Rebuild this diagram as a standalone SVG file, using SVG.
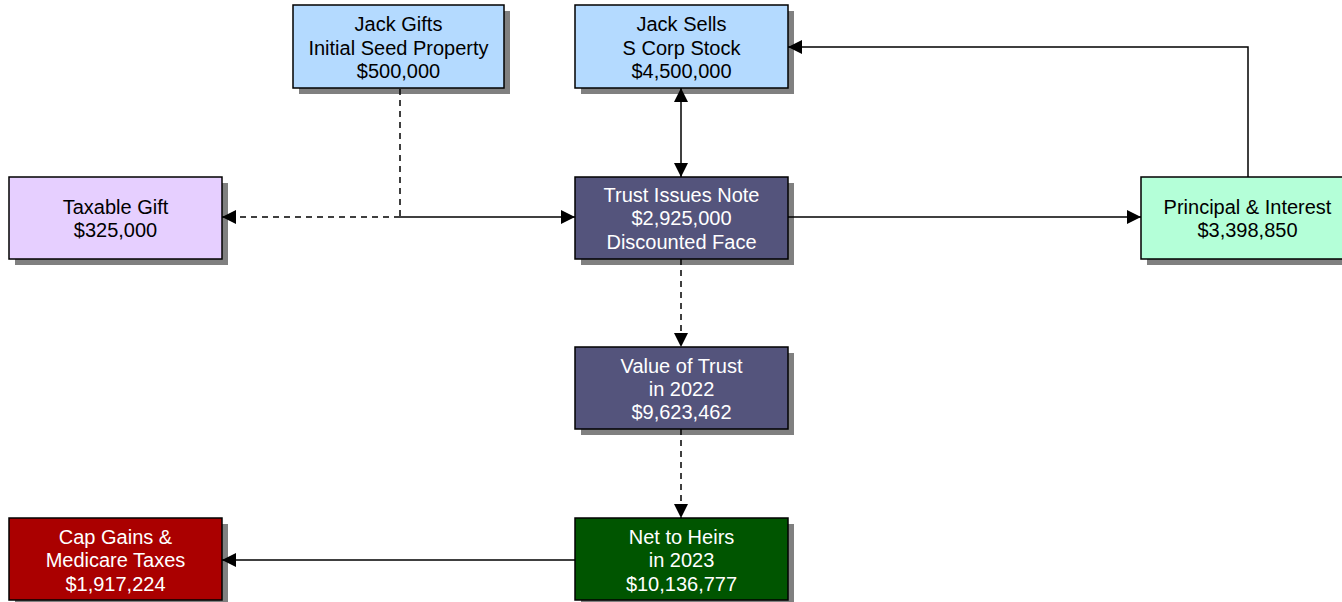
<svg xmlns="http://www.w3.org/2000/svg" width="1342" height="602" viewBox="0 0 1342 602">
<defs>
<style>
.box{stroke:#000;stroke-width:1.5}
.shadow{fill:#808080}
.t{font-family:"Liberation Sans",Arial,sans-serif;font-size:20px;text-anchor:middle}
.dk{fill:#000}
.lt{fill:#fff}
.ln{fill:none;stroke:#000;stroke-width:1.5}
.dash{stroke-dasharray:6,5}
</style>
<marker id="ah" viewBox="0 0 14 14" refX="14" refY="7" markerWidth="14" markerHeight="14" markerUnits="userSpaceOnUse" orient="auto-start-reverse">
<path d="M0,0 L14,7 L0,14 Z" fill="#000"/>
</marker>
</defs>
<rect width="1342" height="602" fill="#fff"/>
<g id="jack-gifts">
<rect class="shadow" x="299" y="11" width="211" height="83"/>
<rect class="box" x="293" y="5" width="211" height="83" fill="#b4daff"/>
<text class="t dk" x="398.5" y="30.5">Jack Gifts</text>
<text class="t dk" x="398.5" y="54.5">Initial Seed Property</text>
<text class="t dk" x="398.5" y="78">$500,000</text>
</g>
<g id="jack-sells">
<rect class="shadow" x="581" y="11" width="213" height="83"/>
<rect class="box" x="575" y="5" width="213" height="83" fill="#b4daff"/>
<text class="t dk" x="681.5" y="30.5">Jack Sells</text>
<text class="t dk" x="681.5" y="54.5">S Corp Stock</text>
<text class="t dk" x="681.5" y="78">$4,500,000</text>
</g>
<g id="taxable-gift">
<rect class="shadow" x="15" y="183" width="213" height="82"/>
<rect class="box" x="9" y="177" width="213" height="82" fill="#e6cfff"/>
<text class="t dk" x="115.5" y="214">Taxable Gift</text>
<text class="t dk" x="115.5" y="237">$325,000</text>
</g>
<g id="trust-note">
<rect class="shadow" x="581" y="183" width="213" height="82"/>
<rect class="box" x="575" y="177" width="213" height="82" fill="#54547c"/>
<text class="t lt" x="681.5" y="202">Trust Issues Note</text>
<text class="t lt" x="681.5" y="225">$2,925,000</text>
<text class="t lt" x="681.5" y="249">Discounted Face</text>
</g>
<g id="principal-interest">
<rect class="shadow" x="1147" y="183" width="213" height="82"/>
<rect class="box" x="1141" y="177" width="213" height="82" fill="#b4ffd8"/>
<text class="t dk" x="1247.5" y="214">Principal &amp; Interest</text>
<text class="t dk" x="1247.5" y="237">$3,398,850</text>
</g>
<g id="value-trust">
<rect class="shadow" x="581" y="353" width="213" height="82"/>
<rect class="box" x="575" y="347" width="213" height="82" fill="#54547c"/>
<text class="t lt" x="681.5" y="373">Value of Trust</text>
<text class="t lt" x="681.5" y="396">in 2022</text>
<text class="t lt" x="681.5" y="419">$9,623,462</text>
</g>
<g id="net-heirs">
<rect class="shadow" x="581" y="524" width="213" height="82"/>
<rect class="box" x="575" y="518" width="213" height="82" fill="#005500"/>
<text class="t lt" x="681.5" y="544">Net to Heirs</text>
<text class="t lt" x="681.5" y="567">in 2023</text>
<text class="t lt" x="681.5" y="591">$10,136,777</text>
</g>
<g id="cap-gains">
<rect class="shadow" x="15" y="524" width="213" height="82"/>
<rect class="box" x="9" y="518" width="213" height="82" fill="#aa0000"/>
<text class="t lt" x="115.5" y="544">Cap Gains &amp;</text>
<text class="t lt" x="115.5" y="567">Medicare Taxes</text>
<text class="t lt" x="115.5" y="591">$1,917,224</text>
</g>
<g id="connectors">
<path class="ln dash" d="M400,89 V217"/>
<path class="ln" d="M400,217 H575" marker-end="url(#ah)"/>
<path class="ln dash" d="M400,217 H222" marker-end="url(#ah)"/>
<path class="ln" d="M681,88 V177" marker-start="url(#ah)" marker-end="url(#ah)"/>
<path class="ln" d="M788,217 H1141" marker-end="url(#ah)"/>
<path class="ln" d="M1248,177 V47 H788" marker-end="url(#ah)"/>
<path class="ln dash" d="M681,259 V347" marker-end="url(#ah)"/>
<path class="ln dash" d="M681,429 V518" marker-end="url(#ah)"/>
<path class="ln" d="M575,560 H222" marker-end="url(#ah)"/>
</g>
</svg>
